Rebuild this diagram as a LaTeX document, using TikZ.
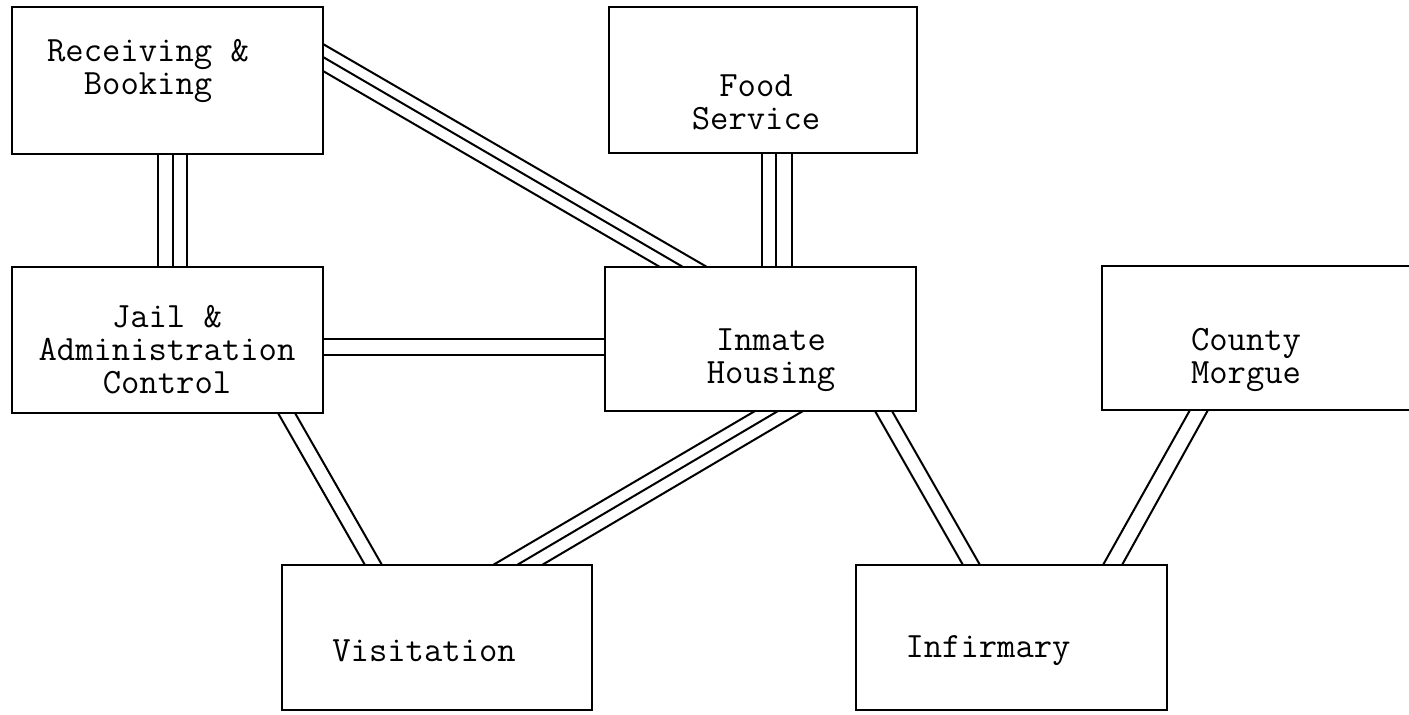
\documentclass[tikz,border=0pt]{standalone}
\usepackage{fontspec}
\begin{document}
\begin{tikzpicture}[x=0.5pt,y=-0.5pt,
  box/.style={draw,line width=1.2pt,rectangle,inner sep=0pt,outer sep=0pt},
  lbl/.style={inner sep=0pt,align=center,font=\ttfamily\fontsize{17.8pt}{16.5pt}\selectfont},
  conn/.style={line width=1pt}]
\useasboundingbox (0,0) rectangle (1409,714);
% boxes
\node[box,minimum width=155.5pt,minimum height=73.5pt] (rec) at (167.5,80.5) {};
\node[box,minimum width=155.5pt,minimum height=73pt] (jail) at (167.5,340) {};
\node[box,minimum width=154pt,minimum height=73pt] (food) at (763,80) {};
\node[box,minimum width=155.5pt,minimum height=72pt] (inm) at (760.5,339) {};
\node[box,minimum width=169pt,minimum height=72pt] (morg) at (1271,338) {};
\node[box,minimum width=155pt,minimum height=72.5pt] (vis) at (437,637.5) {};
\node[box,minimum width=155.5pt,minimum height=72.5pt] (inf) at (1011.5,637.5) {};
% labels
\node[lbl] (recT) at (148,71) {Receiving \&\\Booking};
\node[lbl] (jailT) at (167,350) {Jail \&\\Administration\\Control};
\node[lbl] (foodT) at (756,102) {Food\\Service};
\node[lbl] (inmT) at (771,360) {Inmate\\Housing};
\node[lbl] (morgT) at (1246,360) {County\\Morgue};
\node[lbl] (visT) at (424,651) {Visitation};
\node[lbl] (infT) at (988,651) {Infirmary};
% Receiving -- Jail (triple)
\foreach \s in {73pt,80.5pt,87.5pt}
  \draw[conn] ([xshift=\s]rec.south west) -- ([xshift=\s]jail.north west);
% Food -- Inmate (triple)
\foreach \a/\b in {76.5pt/78.5pt,83.5pt/85.5pt,91.5pt/93.5pt}
  \draw[conn] ([xshift=\a]food.south west) -- ([xshift=\b]inm.north west);
% Jail -- Inmate (double)
\foreach \s in {-36pt,-44pt}
  \draw[conn] ([yshift=\s]jail.north east) -- ([yshift=\s]inm.north west);
% Receiving -- Inmate (triple diagonal)
\foreach \a/\b in {-18.5pt/51pt,-25pt/39pt,-32pt/27.5pt}
  \draw[conn] ([yshift=\a]rec.north east) -- ([xshift=\b]inm.north west);
% Jail -- Visitation (double)
\foreach \a/\b in {133pt/41.5pt,141.5pt/50pt}
  \draw[conn] ([xshift=\a]jail.south west) -- ([xshift=\b]vis.north west);
% Inmate -- Visitation (triple)
\foreach \a/\b in {75pt/105.5pt,86.5pt/117.5pt,99pt/130pt}
  \draw[conn] ([xshift=\a]inm.south west) -- ([xshift=\b]vis.north west);
% Inmate -- Infirmary (double)
\foreach \a/\b in {135pt/53.5pt,143.5pt/62pt}
  \draw[conn] ([xshift=\a]inm.south west) -- ([xshift=\b]inf.north west);
% Morgue -- Infirmary (double)
\foreach \a/\b in {44pt/123.5pt,53pt/133pt}
  \draw[conn] ([xshift=\a]morg.south west) -- ([xshift=\b]inf.north west);
\end{tikzpicture}
\end{document}
